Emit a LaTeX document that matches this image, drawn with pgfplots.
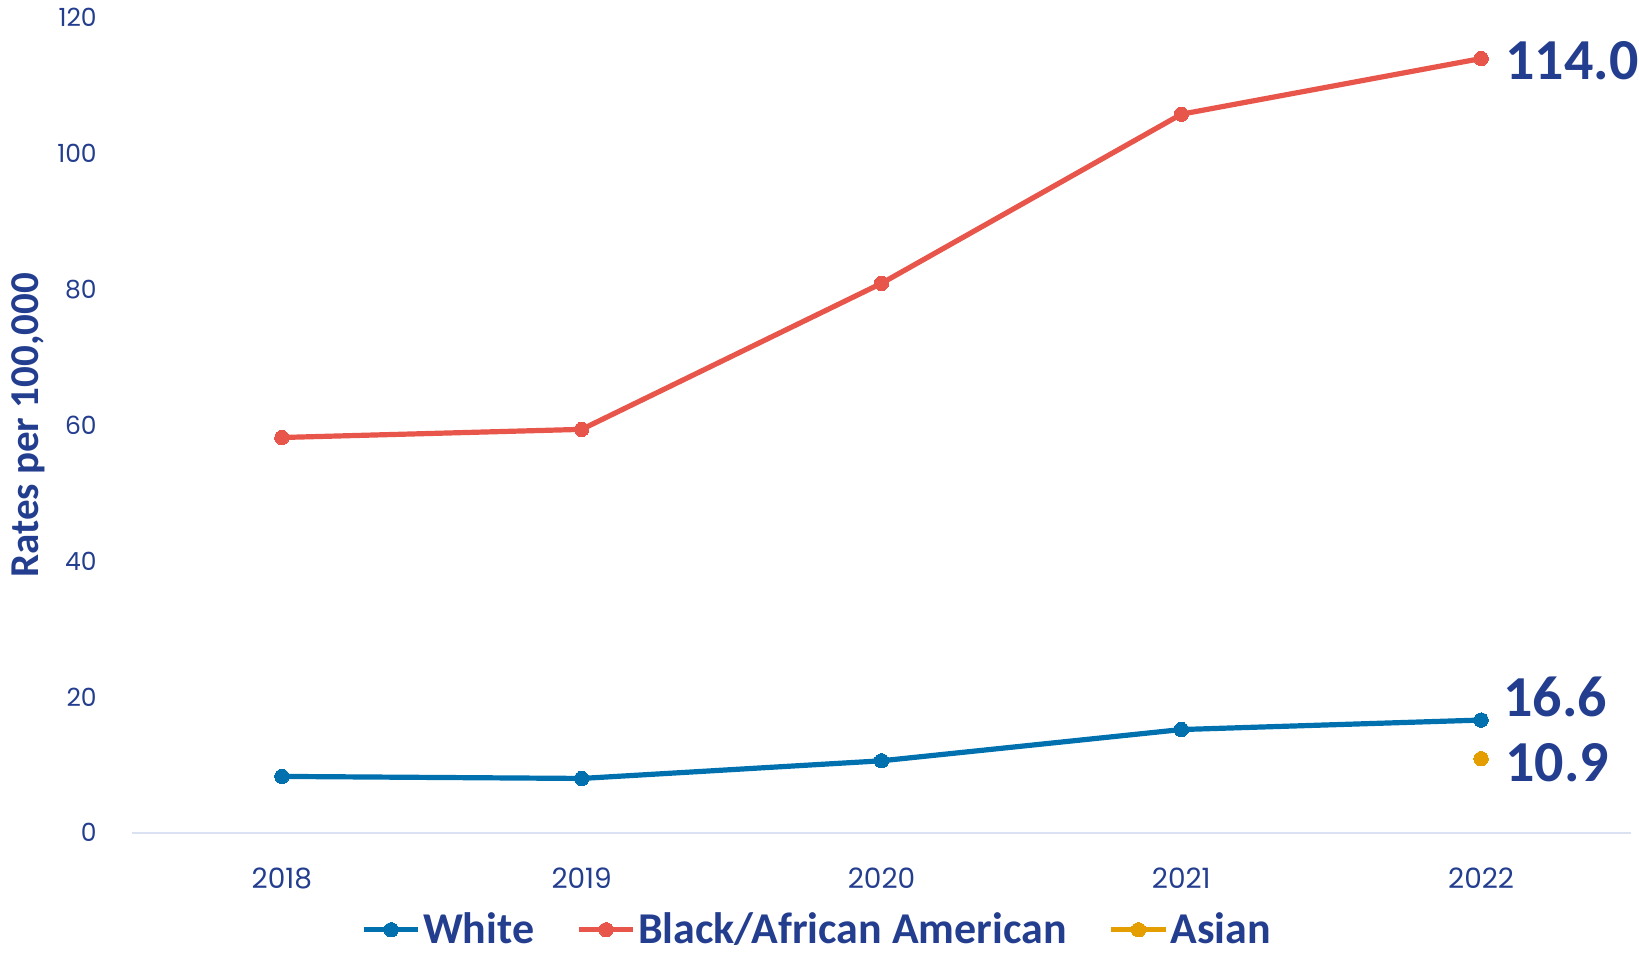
\documentclass[border=0pt]{standalone}
\usepackage{fontspec}
\usepackage{pgfplots}
\pgfplotsset{compat=1.18}
\setmainfont{Carlito}
\newfontfamily\tickfont{Poppins}
\definecolor{Navy}{HTML}{243E8F}
\definecolor{White}{HTML}{0070AF}
\definecolor{Black}{HTML}{E8554A}
\definecolor{Asian}{HTML}{E59E00}
\definecolor{AxisGray}{HTML}{D9E1F2}

\begin{document}
\begin{tikzpicture}
\begin{axis}[
  name=ax, at={(0,0)}, anchor=south west,
  scale only axis, width=749.5pt, height=407.5pt,
  xmin=2017.5, xmax=2022.5, ymin=0, ymax=120,
  xtick={2018,2019,2020,2021,2022},
  ytick={0,20,40,60,80,100,120},
  xticklabel style={/pgf/number format/1000 sep={},font=\tickfont\fontsize{14}{16}\selectfont,text=Navy,anchor=base,yshift=-25.5pt},
  yticklabel style={font=\tickfont\fontsize{12.5}{15}\selectfont,text=Navy,anchor=east,xshift=-12pt},
  /pgf/number format/assume math mode=true,
  axis x line=bottom, axis y line=left,
  x axis line style={draw=AxisGray,line width=1pt,-},
  y axis line style={draw=none},
  tick style={draw=none},
  ylabel={Rates per 100,000},
  ylabel style={at={(axis description cs:-0.0695,0.5)},anchor=center,font=\bfseries\fontsize{20.5}{23}\selectfont,text=Navy},
  legend columns=3,
  legend style={draw=none,fill=none,at={(axis description cs:0.457,-0.119)},anchor=center,
    font=\bfseries\fontsize{22}{25}\selectfont,text=Navy,nodes={inner sep=1pt},
    /tikz/every even column/.append style={column sep=20pt},inner sep=0pt},
  legend image code/.code={\draw[mark repeat=2,mark phase=2,#1] plot coordinates {(0cm,0cm) (0.48cm,0cm) (0.96cm,0cm)};},
  every axis plot/.append style={line width=2.6pt,mark=*,mark size=3.6pt},
  clip=false,
]
\addplot[color=White,mark options={fill=White,draw=White,line width=0pt}] coordinates {(2018,8.3) (2019,8.0) (2020,10.6) (2021,15.2) (2022,16.6)};
\addlegendentry{White}
\addplot[color=Black,mark options={fill=Black,draw=Black,line width=0pt}] coordinates {(2018,58.2) (2019,59.4) (2020,80.9) (2021,105.8) (2022,114.0)};
\addlegendentry{Black/African American}
\addplot[color=Asian,mark options={fill=Asian,draw=Asian,line width=0pt}] coordinates {(2022,10.9)};
\addlegendentry{Asian}
\node[anchor=west,xshift=12pt,yshift=-1pt,text=Navy,font=\bfseries\fontsize{29}{32}\selectfont,inner sep=0pt] at (axis cs:2022,114.0) {114.0};
\node[anchor=west,xshift=11pt,yshift=11.5pt,text=Navy,font=\bfseries\fontsize{29}{32}\selectfont,inner sep=0pt] at (axis cs:2022,16.6) {16.6};
\node[anchor=west,xshift=12pt,yshift=-2pt,text=Navy,font=\bfseries\fontsize{29}{32}\selectfont,inner sep=0pt] at (axis cs:2022,10.9) {10.9};
\end{axis}
\pgfresetboundingbox
\path (-66pt,-61.5pt) rectangle (753.5pt,416.4pt);
\end{tikzpicture}
\end{document}
